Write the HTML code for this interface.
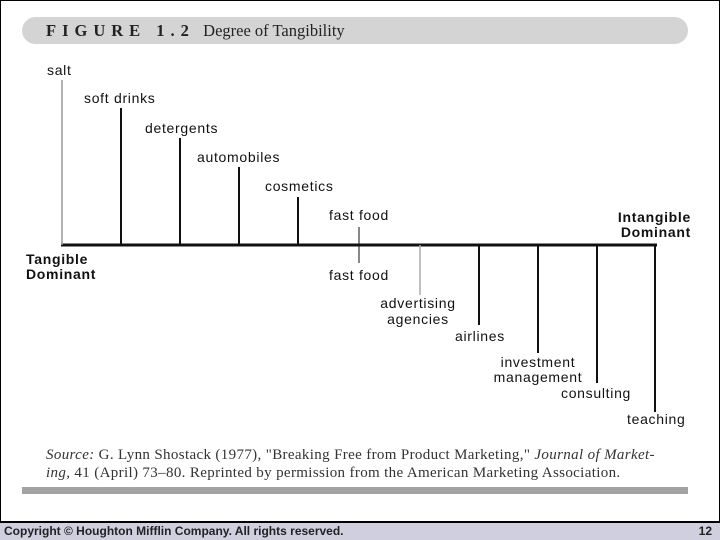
<!DOCTYPE html>
<html><head><style>
html,body{margin:0;padding:0;width:720px;height:540px;overflow:hidden;background:#fff;font-family:"Liberation Sans",sans-serif}
.frame{position:absolute;left:0;top:0;width:718px;height:520px;border:1px solid #000;border-bottom:2px solid #000;background:#fff}
.hdr{position:absolute;left:22px;top:17px;width:666px;height:27px;background:#d4d4d4;border-radius:14px}
.hdr span{position:absolute;left:24px;top:4px;font-family:"Liberation Serif",serif;font-size:16.5px;color:#222;white-space:nowrap}
.gbar{position:absolute;left:22px;top:487px;width:666px;height:7px;background:#a3a3a3}
.foot{position:absolute;left:0;top:523px;width:720px;height:17px;background:#cfcfe0;font-size:12px;font-weight:bold;color:#222}
.src{position:absolute;left:46px;top:446px;font-family:"Liberation Serif",serif;font-size:15px;letter-spacing:0.35px;line-height:18px;color:#333;white-space:nowrap}
</style></head><body>
<div class="frame"></div>
<div class="hdr"><span><b style="letter-spacing:6px">FIGURE 1.2</b>&nbsp;&nbsp;Degree of Tangibility</span></div>
<svg width="720" height="520" style="position:absolute;left:0;top:0" font-family="Liberation Sans, sans-serif" font-size="14" letter-spacing="0.7" fill="#111">
<g stroke="#111" stroke-width="2">
<line x1="61" y1="245" x2="657" y2="245" stroke-width="3"/>
<line x1="62" y1="80" x2="62" y2="245" stroke="#999" stroke-width="1.5"/>
<line x1="121" y1="108" x2="121" y2="245"/>
<line x1="180" y1="138" x2="180" y2="245"/>
<line x1="239" y1="167" x2="239" y2="245"/>
<line x1="298" y1="197" x2="298" y2="245"/>
<line x1="359" y1="227" x2="359" y2="263" stroke-width="1"/>
<line x1="420" y1="245" x2="420" y2="295" stroke="#aaa" stroke-width="1.5"/>
<line x1="479" y1="245" x2="479" y2="325"/>
<line x1="538" y1="245" x2="538" y2="353"/>
<line x1="597" y1="245" x2="597" y2="383"/>
<line x1="655" y1="245" x2="655" y2="412"/>
</g>
<text x="47" y="75">salt</text>
<text x="84" y="103">soft drinks</text>
<text x="145" y="133">detergents</text>
<text x="197" y="162">automobiles</text>
<text x="265" y="191">cosmetics</text>
<text x="329" y="220">fast food</text>
<text x="329" y="280">fast food</text>
<text x="26" y="264" font-weight="bold">Tangible</text>
<text x="26" y="279" font-weight="bold">Dominant</text>
<text x="691" y="222" font-weight="bold" text-anchor="end">Intangible</text>
<text x="691" y="237" font-weight="bold" text-anchor="end">Dominant</text>
<text x="418" y="308" text-anchor="middle">advertising</text>
<text x="418" y="324" text-anchor="middle">agencies</text>
<text x="455" y="341">airlines</text>
<text x="538" y="367" text-anchor="middle">investment</text>
<text x="538" y="382" text-anchor="middle">management</text>
<text x="561" y="398">consulting</text>
<text x="627" y="424">teaching</text>
</svg>
<div class="src"><i>Source:</i> G. Lynn Shostack (1977), "Breaking Free from Product Marketing," <i>Journal of Market-<br>ing,</i> 41 (April) 73–80. Reprinted by permission from the American Marketing Association.</div>
<div class="gbar"></div>
<div class="foot"><span style="position:absolute;left:4px;top:1px">Copyright © Houghton Mifflin Company. All rights reserved.</span><span style="position:absolute;right:8px;top:1px">12</span></div>
</body></html>
